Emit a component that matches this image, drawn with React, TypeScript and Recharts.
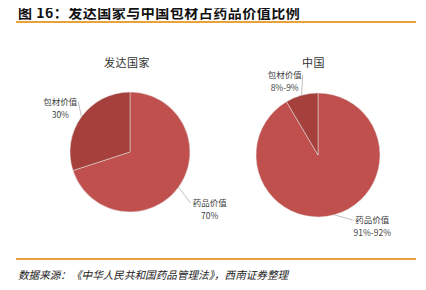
import React from "react";
import { PieChart, Pie, Cell } from "recharts";

const developedNames = ["药品价值", "包材价值"];
const developedValues = [70, 30];
const developedLabels = ["70%", "30%"];

const chinaNames = ["药品价值", "包材价值"];
const chinaValues = [91.5, 8.5];
const chinaLabels = ["91%-92%", "8%-9%"];

const sliceColors = ["#C0504D", "#A5403D"];

const developedData = developedNames.map((name, i) => ({
  name,
  value: developedValues[i],
  pct: developedLabels[i],
}));
const chinaData = chinaNames.map((name, i) => ({
  name,
  value: chinaValues[i],
  pct: chinaLabels[i],
}));

const RAD = Math.PI / 180;
const FONT = '"Noto Sans CJK SC", sans-serif';

// text offset from the point just outside the slice, per slice
function makeLabel(offsets: { dx: number; dy: number }[]) {
  return (props: any) => {
    const { cx, cy, midAngle, outerRadius, index, payload } = props;
    const cos = Math.cos(-midAngle * RAD);
    const sin = Math.sin(-midAngle * RAD);
    const ex = cx + outerRadius * cos;
    const ey = cy + outerRadius * sin;
    const px = cx + (outerRadius + 15) * cos;
    const py = cy + (outerRadius + 15) * sin;
    const o = offsets[index];
    const tx = px + o.dx;
    const ty = py + o.dy;
    const right = cos > 0;
    const lx = right ? tx - 19 : tx + 18;
    return (
      <g>
        <polyline
          points={`${ex},${ey} ${lx},${ty - 6}`}
          stroke="#bfbfbf"
          strokeWidth={1}
          fill="none"
        />
        <text x={tx} y={ty - 3} textAnchor="middle" fontSize={8.5} fill="#404040" fontFamily={FONT}>
          {payload.name}
        </text>
        <text x={tx} y={ty + 10} textAnchor="middle" fontSize={8.5} fill="#404040" fontFamily={FONT}>
          {payload.pct}
        </text>
      </g>
    );
  };
}

const developedLabel = makeLabel([
  { dx: 19, dy: 13 },
  { dx: -9, dy: 0 },
]);
const chinaLabel = makeLabel([
  { dx: 34, dy: -3 },
  { dx: -13, dy: 0 },
]);

export default function App() {
  return (
    <div
      style={{
        position: "relative",
        width: 426,
        height: 290,
        margin: -8,
        background: "#fff",
        fontFamily: FONT,
      }}
    >
      <div
        style={{
          position: "absolute",
          left: 18,
          top: 2,
          fontSize: 14,
          fontWeight: 700,
          letterSpacing: 0.5,
          color: "#111",
          whiteSpace: "nowrap",
        }}
      >
        图 16：发达国家与中国包材占药品价值比例
      </div>
      <div style={{ position: "absolute", left: 16, top: 21, width: 400, height: 2, background: "#E9A23B" }} />
      <div style={{ position: "absolute", left: 104, top: 54, fontSize: 11, letterSpacing: 0.5, color: "#333" }}>发达国家</div>
      <div style={{ position: "absolute", left: 302, top: 54, fontSize: 11, letterSpacing: 0.5, color: "#333" }}>中国</div>
      <div style={{ position: "absolute", left: 0, top: 0 }}>
        <PieChart width={426} height={290}>
          <Pie
            data={developedData}
            dataKey="value"
            cx={125}
            cy={147}
            outerRadius={60}
            startAngle={90}
            endAngle={-270}
            stroke="#e6e6e6"
            strokeWidth={0.5}
            label={developedLabel}
            labelLine={false}
            isAnimationActive={false}
          >
            {developedData.map((d, i) => (
              <Cell key={d.name} fill={sliceColors[i]} />
            ))}
          </Pie>
          <Pie
            data={chinaData}
            dataKey="value"
            cx={313}
            cy={150}
            outerRadius={62}
            startAngle={90}
            endAngle={-270}
            stroke="#e6e6e6"
            strokeWidth={0.5}
            label={chinaLabel}
            labelLine={false}
            isAnimationActive={false}
          >
            {chinaData.map((d, i) => (
              <Cell key={d.name} fill={sliceColors[i]} />
            ))}
          </Pie>
        </PieChart>
      </div>
      <div style={{ position: "absolute", left: 16, top: 258, width: 400, height: 2, background: "#E9A23B" }} />
      <div
        style={{
          position: "absolute",
          left: 18,
          top: 267,
          fontSize: 10.6,
          fontStyle: "italic",
          color: "#222",
          whiteSpace: "nowrap",
        }}
      >
        数据来源：《中华人民共和国药品管理法》，西南证券整理
      </div>
    </div>
  );
}
